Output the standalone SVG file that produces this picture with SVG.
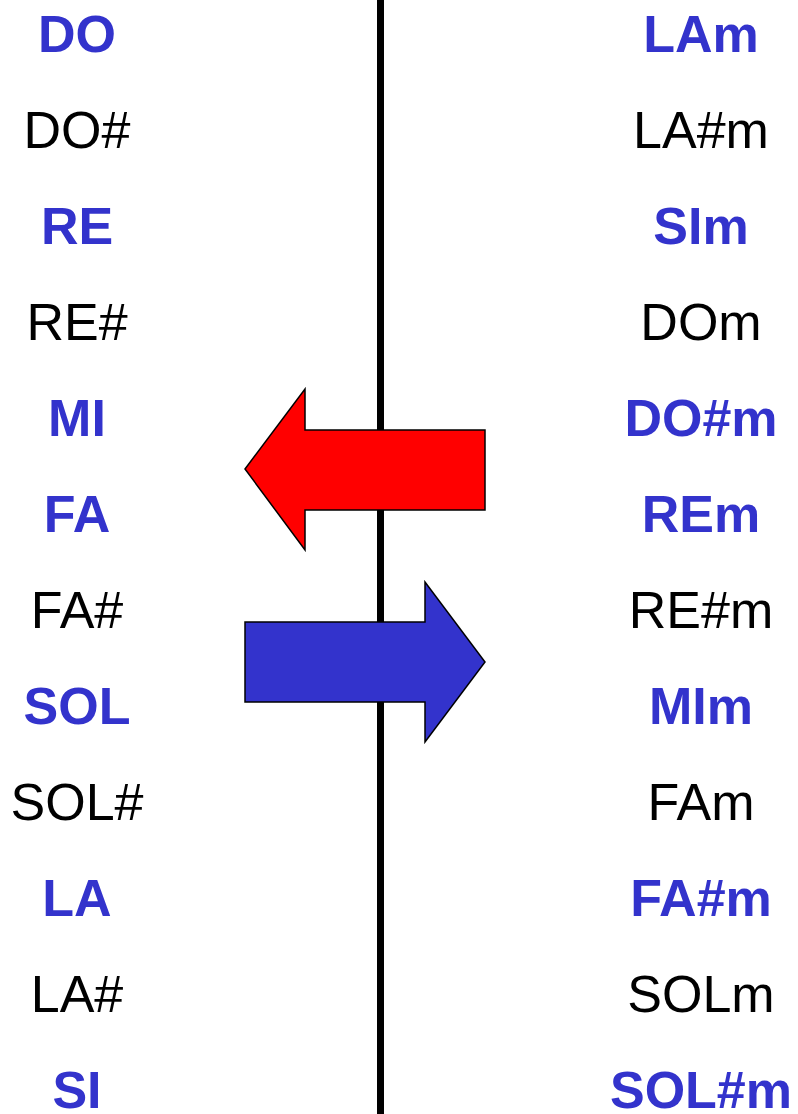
<svg xmlns="http://www.w3.org/2000/svg" width="798" height="1114" viewBox="0 0 798 1114">
<style>
text{font-family:"Liberation Sans",Arial,sans-serif;font-size:52px;text-anchor:middle}
.b{font-weight:bold;fill:#3333CC}
.n{fill:#000}
.arrow{stroke:#000;stroke-width:1.5;stroke-linejoin:miter}
</style>
<rect width="798" height="1114" fill="#fff"/>
<g id="divider"><rect x="377" y="0" width="7" height="1114" fill="#000"/></g>
<g id="left-column">
<text id="l1" class="b" x="77" y="52">DO</text>
<text id="l2" class="n" x="77" y="148">DO#</text>
<text id="l3" class="b" x="77" y="244">RE</text>
<text id="l4" class="n" x="77" y="340">RE#</text>
<text id="l5" class="b" x="77" y="436">MI</text>
<text id="l6" class="b" x="77" y="532">FA</text>
<text id="l7" class="n" x="77" y="628">FA#</text>
<text id="l8" class="b" x="77" y="724">SOL</text>
<text id="l9" class="n" x="77" y="820">SOL#</text>
<text id="l10" class="b" x="77" y="916">LA</text>
<text id="l11" class="n" x="77" y="1012">LA#</text>
<text id="l12" class="b" x="77" y="1108">SI</text>
</g>
<g id="right-column">
<text id="r1" class="b" x="701" y="52">LAm</text>
<text id="r2" class="n" x="701" y="148">LA#m</text>
<text id="r3" class="b" x="701" y="244">SIm</text>
<text id="r4" class="n" x="701" y="340">DOm</text>
<text id="r5" class="b" x="701" y="436">DO#m</text>
<text id="r6" class="b" x="701" y="532">REm</text>
<text id="r7" class="n" x="701" y="628">RE#m</text>
<text id="r8" class="b" x="701" y="724">MIm</text>
<text id="r9" class="n" x="701" y="820">FAm</text>
<text id="r10" class="b" x="701" y="916">FA#m</text>
<text id="r11" class="n" x="701" y="1012">SOLm</text>
<text id="r12" class="b" x="701" y="1108">SOL#m</text>
</g>
<g id="connectors">
<polygon id="red-arrow" class="arrow" fill="#FF0000" points="245,469 305,389 305,430 485,430 485,510 305,510 305,550"/>
<polygon id="blue-arrow" class="arrow" fill="#3333CC" points="245,622 425,622 425,582 485,662 425,742 425,702 245,702"/>
</g>
</svg>
